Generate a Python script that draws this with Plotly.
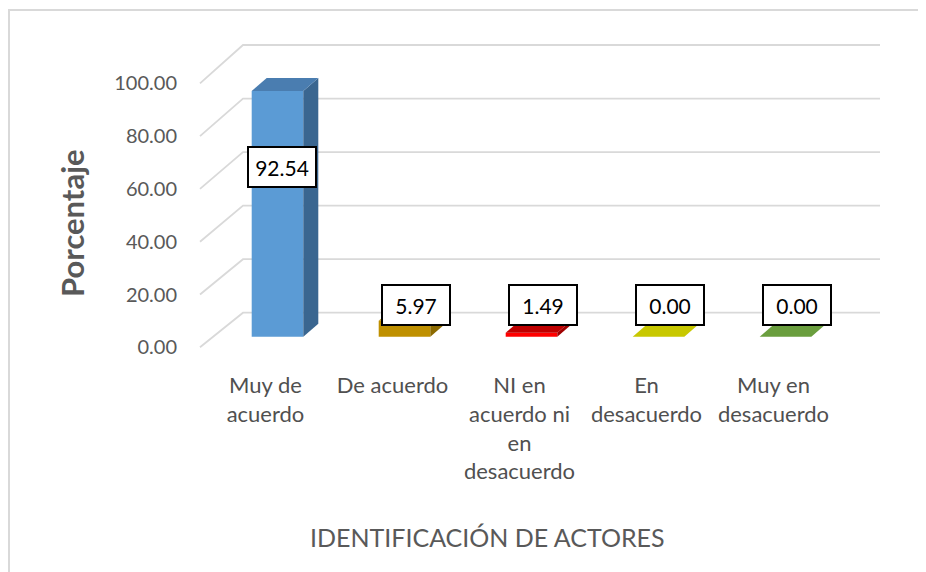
import plotly.graph_objects as go

# ---------------- data ----------------
categories = [
    "Muy de<br>acuerdo",
    "De acuerdo",
    "NI en<br>acuerdo ni<br>en<br>desacuerdo",
    "En<br>desacuerdo",
    "Muy en<br>desacuerdo",
]
values = [92.54, 5.97, 1.49, 0.00, 0.00]
y_ticks = [0, 20, 40, 60, 80, 100]
x_title = "IDENTIFICACIÓN DE ACTORES"
y_title = "Porcentaje"

front_colors = ["#5B9BD5", "#BF9000", "#FF0000", "#CCCC00", "#70AD47"]
top_colors = ["#4A7DB0", "#BF9000", "#C00000", "#C8C800", "#6A9E3E"]
side_colors = ["#3A6690", "#8C6A00", "#A00000", "#9A9A00", "#507A30"]

# ---------------- layout geometry (page pixels) ----------------
OFF = 8                                  # page body margin
W, H = 926, 572
L, R, T, B = 196, 884, 38, 352           # plot area in page pixels
X0_PX, X_STEP = 265.5, 127.0             # category tick 0 position and spacing
LBL_ZERO_PX, LBL_SCALE = 347.3, 2.64     # value axis (tick labels / left wall)
BAR_ZERO_PX, BAR_SCALE = 336.7, 2.655    # bar front faces
WALL_SHIFT, WALL_SCALE = 13.1, 1.014     # back wall relative to label axis

def px_to_x(px):
    return (px - X0_PX) / X_STEP

def px_paper_x(px):
    return (px - L) / (R - L)

def px_paper_y(py):
    return (B - py) / (B - T)

x_range = [px_to_x(L), px_to_x(R)]
yl_range = [-(B - LBL_ZERO_PX) / LBL_SCALE, (LBL_ZERO_PX - T) / LBL_SCALE]
yb_range = [-(B - BAR_ZERO_PX) / BAR_SCALE, (BAR_ZERO_PX - T) / BAR_SCALE]

bar_width = 51.6 / X_STEP
bar_offset = 12.0 / X_STEP - bar_width / 2
depth_dx = 15.0 / X_STEP
depth_dy = 13.0 / BAR_SCALE

FONT = "Lato, Roboto, 'Open Sans', sans-serif"
GREY = "#595959"

fig = go.Figure()

# ---------------- wall gridlines ----------------
gx, gy = [], []
x_front = px_to_x(200)
x_back = px_to_x(243)
x_right = px_to_x(880)
for t in y_ticks:
    yb = WALL_SHIFT + WALL_SCALE * t
    gx += [x_front, x_back, x_right, None]
    gy += [t, yb, yb, None]
fig.add_trace(go.Scatter(x=gx, y=gy, mode="lines",
                         line=dict(color="#D9D9D9", width=1.8),
                         hoverinfo="skip", showlegend=False,
                         xaxis="x", yaxis="y"))

# ---------------- bars: front faces ----------------
xs = list(range(len(values)))
fig.add_trace(go.Bar(x=xs, y=values, width=[bar_width] * len(values),
                     offset=[bar_offset] * len(values),
                     marker=dict(color=front_colors, line=dict(width=0)),
                     showlegend=False, xaxis="x", yaxis="y2"))

# ---------------- side and top faces ----------------
for i, v in enumerate(values):
    xl = i + bar_offset
    xr = xl + bar_width
    fig.add_trace(go.Scatter(
        x=[xr, xr + depth_dx, xr + depth_dx, xr, xr],
        y=[0, depth_dy, v + depth_dy, v, 0],
        mode="lines", fill="toself", fillcolor=side_colors[i],
        line=dict(width=0, color=side_colors[i]),
        hoverinfo="skip", showlegend=False, xaxis="x", yaxis="y2"))
    fig.add_trace(go.Scatter(
        x=[xl, xl + depth_dx, xr + depth_dx, xr, xl],
        y=[v, v + depth_dy, v + depth_dy, v, v],
        mode="lines", fill="toself", fillcolor=top_colors[i],
        line=dict(width=0, color=top_colors[i]),
        hoverinfo="skip", showlegend=False, xaxis="x", yaxis="y2"))

# ---------------- data labels ----------------
annotations = []
for i, v in enumerate(values):
    annotations.append(dict(
        x=i + (0.13 if v > 20 else 0.185), y=max(v * 0.69, 12.0),
        xref="x", yref="y2",
        text=f"{v:.2f}", showarrow=False,
        font=dict(family=FONT, size=21, color="#000000"),
        width=58, height=30,
        bgcolor="#FFFFFF", bordercolor="#000000", borderwidth=2, borderpad=4,
        xanchor="center", yanchor="middle"))

# axis titles
annotations.append(dict(
    x=px_paper_x(487), y=px_paper_y(536.7), xref="paper", yref="paper",
    text=x_title, showarrow=False, xanchor="center", yanchor="middle",
    font=dict(family=FONT, size=25, color=GREY)))
annotations.append(dict(
    x=px_paper_x(71.5), y=px_paper_y(223.5), xref="paper", yref="paper",
    text=f"<b>{y_title}</b>", showarrow=False, textangle=-90,
    xanchor="center", yanchor="middle",
    font=dict(family=FONT, size=31, color=GREY)))

# outer frame
shapes = [dict(type="rect", xref="paper", yref="paper",
               x0=px_paper_x(9), x1=px_paper_x(960),
               y0=px_paper_y(10), y1=px_paper_y(620),
               line=dict(color="#D9D9D9", width=2), fillcolor="rgba(0,0,0,0)",
               layer="below")]

fig.update_layout(
    width=W - OFF, height=H - OFF,
    margin=dict(l=L - OFF, r=W - R, t=T - OFF, b=H - B, pad=0),
    paper_bgcolor="#FFFFFF", plot_bgcolor="#FFFFFF",
    showlegend=False,
    annotations=annotations, shapes=shapes,
    xaxis=dict(range=x_range, tickmode="array", tickvals=xs, ticktext=categories,
               showgrid=False, zeroline=False, showline=False,
               ticks="outside", ticklen=14, tickcolor="rgba(0,0,0,0)",
               tickfont=dict(family=FONT, size=22, color="#505050"), fixedrange=True),
    yaxis=dict(range=yl_range, tickmode="array", tickvals=y_ticks, tickformat=".2f",
               showgrid=False, zeroline=False, showline=False,
               ticks="outside", ticklen=14, tickcolor="rgba(0,0,0,0)",
               tickfont=dict(family=FONT, size=20, color=GREY), fixedrange=True),
    yaxis2=dict(range=yb_range, overlaying="y", visible=False, fixedrange=True),
)

fig.write_html("out.html")
